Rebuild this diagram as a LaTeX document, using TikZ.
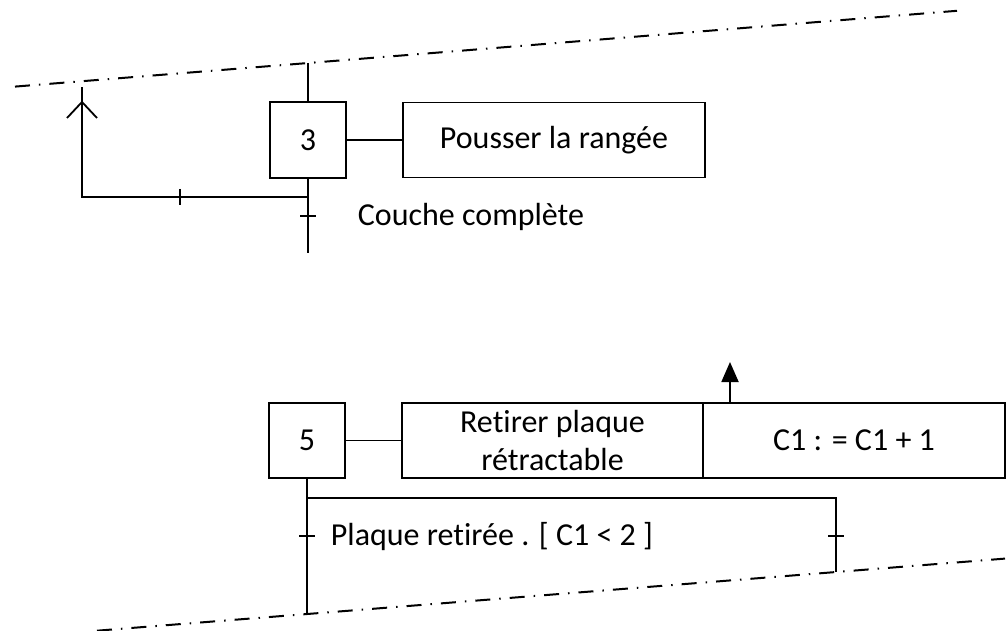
\documentclass[tikz,border=0pt]{standalone}
\usepackage{fontspec}
\setmainfont{Carlito}[Ligatures=CommonOff]
\usetikzlibrary{arrows.meta}
\begin{document}
\begin{tikzpicture}[x=1pt,y=-1pt,line width=1.8pt,
  txt/.style={font=\fontsize{32}{38}\selectfont},
  stepbox/.style={draw,rectangle,inner sep=0pt,outer sep=0pt,minimum width=76pt,minimum height=76pt,txt},
  actbox/.style={draw,rectangle,inner sep=0pt,outer sep=0pt,minimum height=75pt,align=center,txt},
  lbl/.style={inner sep=0pt,txt},
  dashdot/.style={line width=2pt,dash pattern=on 15pt off 9pt on 1.5pt off 9pt},
  tick/.style={line width=1.8pt}]
\useasboundingbox (0,0) rectangle (1007,631);
% separation lines
\draw[dashdot] (15,86.6) -- (957,10.8);
\draw[dashdot] (97,630.7) -- (1005,558.6);
% step 3
\node[stepbox] (s3) at (308,140) {3};
\node[actbox,minimum width=302pt] (a3) at (554,140) {Pousser la rangée};
\draw (s3.east) -- (a3.west);
\coordinate (top3) at (308,63);
\coordinate (bot3) at (308,253);
\coordinate (j3) at (308,197);
\coordinate (c3) at (82,197);
\coordinate (up3) at (82,87);
\draw (top3) -- (s3.north);
\draw (s3.south) -- (bot3);
\draw (j3) -- (c3) -- (up3);
\draw[tick] (180,189) -- (180,205);
\draw[tick] (300,216) -- (316,216);
\draw (67,118) -- (82,102) -- (97,118);
\node[lbl,anchor=base west] (t3) at (357,226) {Couche complète};
% step 5
\node[stepbox,minimum height=75pt] (s5) at (307,440.5) {5};
\node[actbox,minimum width=301pt] (a5a) at (552.5,440.5) {Retirer plaque\\rétractable};
\node[actbox,minimum width=302pt] (a5b) at (854,440.5) {C1 : = C1 + 1};
\draw (s5.east) -- (a5a.west);
\coordinate (ab) at (730,403);
\coordinate (at) at (730,362);
\draw[-{Triangle[length=20pt,width=17pt]}] (ab) -- (at);
\coordinate (bot5) at (307,614);
\coordinate (j5) at (307,498);
\coordinate (r5) at (836,498);
\coordinate (rb5) at (836,572);
\draw (s5.south) -- (bot5);
\draw (j5) -- (r5) -- (rb5);
\draw[tick] (299,536) -- (315,536);
\draw[tick] (828,536) -- (844,536);
\node[lbl,anchor=base west] (t5) at (330,545) {Plaque retirée . [ C1 < 2 ]};
\end{tikzpicture}
\end{document}
